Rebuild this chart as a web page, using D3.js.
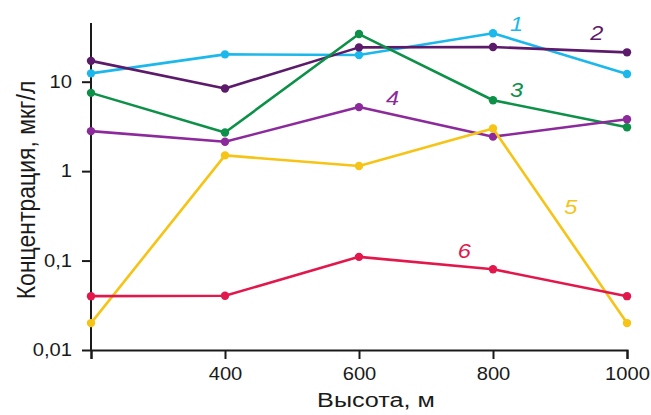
<!DOCTYPE html>
<html>
<head>
<meta charset="utf-8">
<script src="https://cdn.jsdelivr.net/npm/d3@7"></script>
<style>
  body { margin: 0; background: #fff; }
  text { font-family: "Liberation Sans", Arial, sans-serif; }
</style>
</head>
<body>
<svg class="chart"></svg>
<script>
// heights, m
var heights = [200, 400, 600, 800, 1000];

// concentrations, mkg/l
var s1 = [12.4, 20.2, 19.9, 34.8, 12.2];
var s2 = [17.1, 8.4, 24.2, 24.4, 21.3];
var s3 = [7.5, 2.7, 34.1, 6.2, 3.1];
var s4 = [2.8, 2.13, 5.2, 2.43, 3.8];
var s5 = [0.02, 1.5, 1.14, 3.0, 0.02];
var s6 = [0.04, 0.0404, 0.11, 0.08, 0.04];

var seriesNames = ['1', '2', '3', '4', '5', '6'];
var colors = ['#1cb8ec', '#5c1a6b', '#0d9048', '#8c2a9c', '#f5c416', '#e2184c'];

var xTicks = [200, 400, 600, 800, 1000];
var yTicks = [0.01, 0.1, 1, 10];

// where the series number sits (height, value)
var labelPos = [[835, 45], [955, 35], [835, 8.1], [650, 6.6], [916, 0.4], [757, 0.129]];

var series = [s1, s2, s3, s4, s5, s6];

var svgWidth = 651, svgHeight = 415;
var svg = d3.select('.chart')
  .attr('width', svgWidth)
  .attr('height', svgHeight);

var xScale = d3.scaleLinear()
  .domain([200, 1000])
  .range([91, 627]);

var yScale = d3.scaleLog()
  .domain([0.01, 10])
  .range([350, 81.7]);

var ru = d3.formatLocale({decimal: ',', thousands: ' ', grouping: [3], currency: ['', '']});
var yFormat = function(d) { return ru.format('~g')(d); };

// axes
var xAxis = d3.axisBottom(xScale)
  .tickValues(xTicks)
  .tickSize(9)
  .tickPadding(8)
  .tickFormat(function(d) { return d === 200 ? '' : d; });

var yAxis = d3.axisLeft(yScale)
  .tickValues(yTicks)
  .tickSize(9)
  .tickPadding(8)
  .tickFormat(yFormat);

var gx = svg.append('g')
  .attr('transform', 'translate(0,350)')
  .call(xAxis);

var gy = svg.append('g')
  .attr('transform', 'translate(91,0)')
  .call(yAxis);

gy.select('.domain').attr('d', 'M0,' + 23 + 'V350');

[gx, gy].forEach(function(g) {
  g.select('.domain').attr('stroke', '#1a1a1a').attr('stroke-width', 2);
  g.selectAll('.tick line').attr('stroke', '#1a1a1a').attr('stroke-width', 2);
  g.selectAll('.tick text')
    .attr('fill', '#1a1a1a')
    .style('font-size', '18px')
    .attr('transform', 'scale(1.12,1)');
});

// lines
var line = d3.line()
  .x(function(d, i) { return xScale(heights[i]); })
  .y(function(d) { return yScale(d); });

series.forEach(function(values, k) {
  svg.append('path')
    .attr('d', line(values))
    .attr('fill', 'none')
    .attr('stroke', colors[k])
    .attr('stroke-width', 2.6)
    .attr('stroke-linejoin', 'round');

  svg.selectAll('.dot' + k)
    .data(values)
    .enter()
    .append('circle')
    .attr('cx', function(d, i) { return xScale(heights[i]); })
    .attr('cy', function(d) { return yScale(d); })
    .attr('r', 4.2)
    .attr('fill', colors[k]);
});

// series numbers
svg.selectAll('.series-label')
  .data(seriesNames)
  .enter()
  .append('text')
  .attr('transform', function(d, i) {
    return 'translate(' + xScale(labelPos[i][0]) + ',' + yScale(labelPos[i][1]) + ') scale(1.12,1)';
  })
  .attr('text-anchor', 'middle')
  .attr('dy', '0.35em')
  .style('font-size', '21px')
  .style('font-style', 'italic')
  .attr('fill', function(d, i) { return colors[i]; })
  .text(function(d) { return d; });

// axis titles
svg.append('text')
  .attr('transform', 'translate(376,407) scale(1.2,1)')
  .attr('text-anchor', 'middle')
  .style('font-size', '21px')
  .attr('fill', '#1a1a1a')
  .text('Высота, м');

svg.append('text')
  .attr('transform', 'translate(35,190) rotate(-90) scale(1,1.15)')
  .attr('text-anchor', 'middle')
  .style('font-size', '23px')
  .attr('fill', '#1a1a1a')
  .text('Концентрация, мкг/л');
</script>
</body>
</html>
